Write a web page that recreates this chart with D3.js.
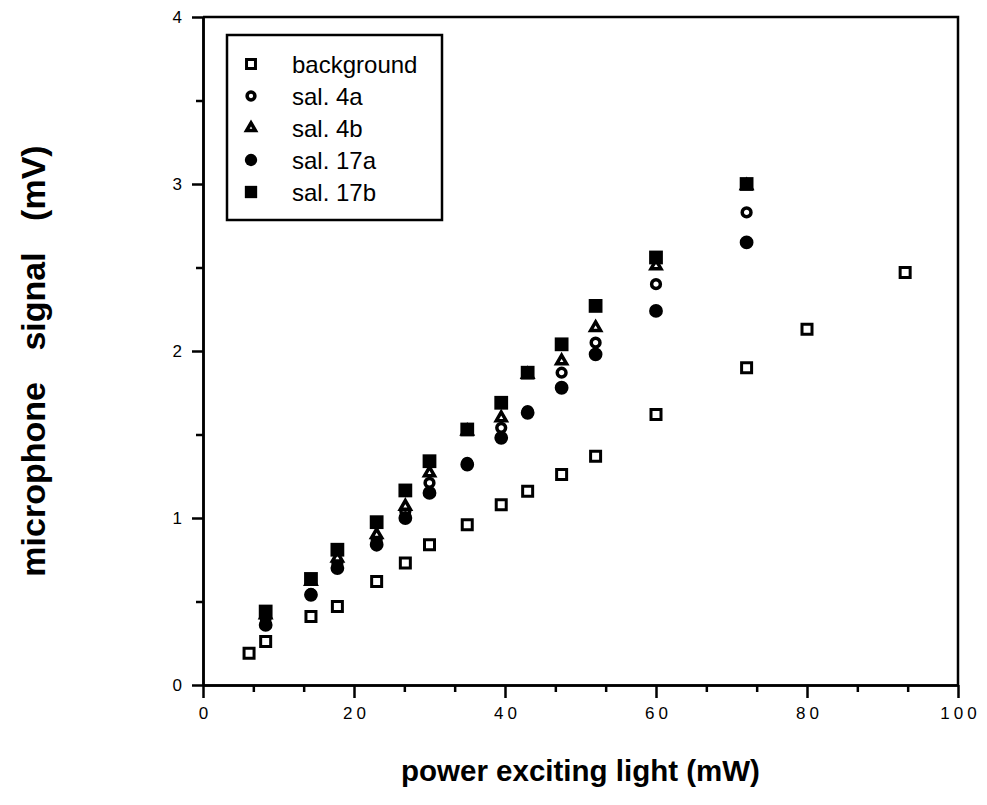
<!DOCTYPE html>
<html>
<head>
<meta charset="utf-8">
<script src="https://cdn.jsdelivr.net/npm/d3@7"></script>
<style>
  body { margin: 0; background: #fff; }
  svg text { font-family: "Liberation Sans", Arial, sans-serif; fill: #000; }
</style>
</head>
<body>
<div id="chart"></div>
<script>
// power of exciting light (mW)
const powerBg = [6.1, 8.3, 14.3, 17.8, 23, 26.8, 30, 35, 39.5, 43, 47.5, 52, 60, 72, 80, 93]
const background = [0.19, 0.26, 0.41, 0.47, 0.62, 0.73, 0.84, 0.96, 1.08, 1.16, 1.26, 1.37, 1.62, 1.90, 2.13, 2.47]

const powerSal = [8.3, 14.3, 17.8, 23, 26.8, 30, 35, 39.5, 43, 47.5, 52, 60, 72]
const sal4a = [0.40, 0.545, 0.73, 0.87, 1.04, 1.21, 1.33, 1.54, 1.64, 1.87, 2.05, 2.40, 2.83]
const sal4b = [0.42, 0.62, 0.76, 0.90, 1.07, 1.27, 1.52, 1.60, 1.86, 1.94, 2.14, 2.51, 2.99]
const sal17a = [0.36, 0.54, 0.70, 0.84, 1.00, 1.15, 1.32, 1.48, 1.63, 1.78, 1.98, 2.24, 2.65]
const sal17b = [0.44, 0.635, 0.81, 0.975, 1.165, 1.34, 1.53, 1.69, 1.87, 2.04, 2.27, 2.56, 3.00]

const seriesNames = ['background', 'sal. 4a', 'sal. 4b', 'sal. 17a', 'sal. 17b']
const xTicks = [0, 20, 40, 60, 80, 100]
const yTicks = [0, 1, 2, 3, 4]

const width = 987
const height = 805
const padding = { left: 203, right: 29, top: 17, bottom: 120 }

const svg = d3.select('#chart')
  .append('svg')
  .attr('width', width)
  .attr('height', height)

const xScale = d3.scaleLinear().domain([0, 100]).range([padding.left, width - padding.right])
const yScale = d3.scaleLinear().domain([0, 4]).range([height - padding.bottom, padding.top])

// symbol styles per series
const styles = [
  { type: d3.symbolSquare, size: 100, fill: '#fff', stroke: 3 },
  { type: d3.symbolCircle, size: 60, fill: '#fff', stroke: 3.5 },
  { type: d3.symbolTriangle, size: 42, fill: '#fff', stroke: 3.5 },
  { type: d3.symbolCircle, size: 150, fill: '#000', stroke: 0 },
  { type: d3.symbolSquare, size: 190, fill: '#000', stroke: 0 }
]

const series = [
  { x: powerBg, y: background },
  { x: powerSal, y: sal4a },
  { x: powerSal, y: sal4b },
  { x: powerSal, y: sal17a },
  { x: powerSal, y: sal17b }
]

// axes
const x0 = xScale.range()[0], x1 = xScale.range()[1]
const y0 = yScale.range()[0], y1 = yScale.range()[1]

const minorX = d3.range(0, 100.01, 20 / 3).filter(v => Math.abs(v / 20 - Math.round(v / 20)) > 0.01)
const minorY = [0.5, 1.5, 2.5, 3.5]

svg.append('g')
  .attr('transform', `translate(0, ${y0})`)
  .call(d3.axisBottom(xScale).tickValues(minorX).tickSize(7).tickFormat('').tickSizeOuter(0))
svg.append('g')
  .attr('class', 'xaxis')
  .attr('transform', `translate(0, ${y0})`)
  .call(d3.axisBottom(xScale).tickValues(xTicks).tickSize(13).tickPadding(9).tickSizeOuter(0))

svg.append('g')
  .attr('transform', `translate(${x0}, 0)`)
  .call(d3.axisLeft(yScale).tickValues(minorY).tickSize(7).tickFormat('').tickSizeOuter(0))
svg.append('g')
  .attr('class', 'yaxis')
  .attr('transform', `translate(${x0}, 0)`)
  .call(d3.axisLeft(yScale).tickValues(yTicks).tickFormat(d3.format('d')).tickSize(11).tickPadding(6).tickSizeOuter(0))

svg.selectAll('.domain, .tick line')
  .attr('stroke', '#000')
  .attr('stroke-width', 2.5)

svg.selectAll('.xaxis text, .yaxis text')
  .attr('font-size', 17)
  .attr('letter-spacing', 4)
svg.selectAll('.xaxis text').attr('dx', 2)

// top and right border
svg.append('path')
  .attr('d', `M${x0},${y1}H${x1}V${y0}`)
  .attr('fill', 'none')
  .attr('stroke', '#000')
  .attr('stroke-width', 2.5)

// points
series.forEach((s, k) => {
  const st = styles[k]
  svg.append('g')
    .selectAll('path')
    .data(s.y)
    .enter()
    .append('path')
    .attr('transform', (d, i) => `translate(${xScale(s.x[i])}, ${yScale(d)})`)
    .attr('d', d3.symbol().type(st.type).size(st.size))
    .attr('fill', st.fill)
    .attr('stroke', '#000')
    .attr('stroke-width', st.stroke)
})

// legend
const legend = svg.append('g').attr('transform', 'translate(227, 35)')
legend.append('rect')
  .attr('width', 215)
  .attr('height', 185)
  .attr('fill', '#fff')
  .attr('stroke', '#000')
  .attr('stroke-width', 2.5)

const rows = legend.selectAll('g.row')
  .data(seriesNames)
  .enter()
  .append('g')
  .attr('class', 'row')
  .attr('transform', (d, i) => `translate(0, ${29 + i * 32})`)

rows.append('path')
  .attr('transform', 'translate(24, 0)')
  .attr('d', (d, i) => d3.symbol().type(styles[i].type).size(styles[i].size * 0.8)())
  .attr('fill', (d, i) => styles[i].fill)
  .attr('stroke', '#000')
  .attr('stroke-width', (d, i) => styles[i].stroke)

rows.append('text')
  .attr('x', 65)
  .attr('y', 9)
  .attr('font-size', 24)
  .text(d => d)

// axis titles
svg.append('text')
  .attr('x', (x0 + x1) / 2)
  .attr('y', 781)
  .attr('text-anchor', 'middle')
  .attr('font-size', 29.5)
  .attr('font-weight', 'bold')
  .text('power exciting light (mW)')

svg.append('text')
  .attr('transform', `translate(45, ${(y0 + y1) / 2 + 10}) rotate(-90)`)
  .attr('text-anchor', 'middle')
  .attr('font-size', 34)
  .attr('font-weight', 'bold')
  .attr('word-spacing', 22)
  .text('microphone signal (mV)')
</script>
</body>
</html>
